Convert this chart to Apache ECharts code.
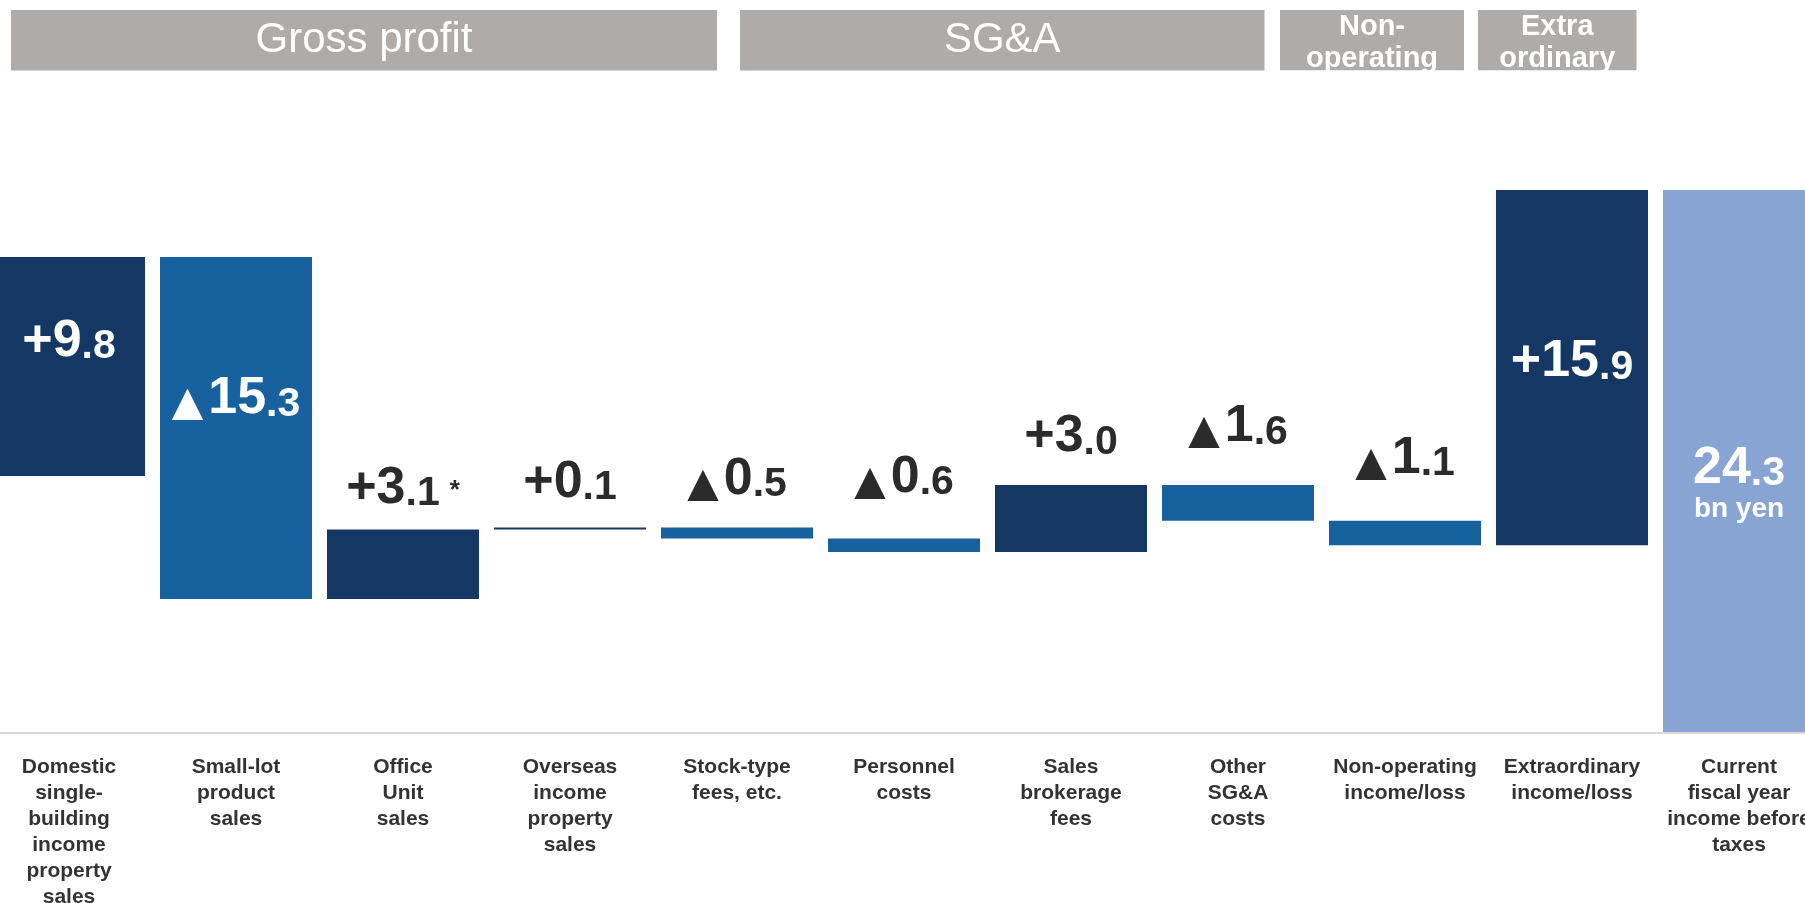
<!DOCTYPE html>
<html>
<head>
<meta charset="utf-8">
<script src="https://cdn.jsdelivr.net/npm/echarts@6/dist/echarts.min.js"></script>
<style>
  html, body { margin: 0; padding: 0; background: #ffffff; }
  #chart { width: 1805px; height: 903px; }
</style>
</head>
<body>
<div id="chart"></div>
<script>
// Bridge of income before taxes (bn yen): one change per driver, then the current-year total.
const categories = [
  'Domestic\nsingle-\nbuilding\nincome\nproperty\nsales',
  'Small-lot\nproduct\nsales',
  'Office\nUnit\nsales',
  'Overseas\nincome\nproperty\nsales',
  'Stock-type\nfees, etc.',
  'Personnel\ncosts',
  'Sales\nbrokerage\nfees',
  'Other\nSG&A\ncosts',
  'Non-operating\nincome/loss',
  'Extraordinary\nincome/loss',
  'Current\nfiscal year\nincome before\ntaxes'
];
const changes = [9.8, -15.3, 3.1, 0.1, -0.5, -0.6, 3.0, -1.6, -1.1, 15.9];
const currentTotal = 24.3;
const totalUnit = 'bn yen';
const footnotes = ['', '', '*', '', '', '', '', '', '', ''];
const groupHeaders = ['Gross profit', 'SG&A', 'Non-\noperating', 'Extra\nordinary'];

const FONT = '"Liberation Sans", Arial, Helvetica, sans-serif';
const TRI_FONT = '"DejaVu Sans", "Liberation Sans", sans-serif';
const DARK = '#153764';
const MID = '#17629e';
const LIGHT = '#88a4d2';
const HEADER = '#aeaba9';
const INK = '#2b2b2b';

// Opening level implied by the total and the listed changes
const opening = +(currentTotal - changes.reduce((a, b) => a + b, 0)).toFixed(1);

// Waterfall: invisible base + visible change
const baseData = [];
const stepData = [];
let level = opening;
changes.forEach(function (d) {
  const next = level + d;
  baseData.push(Math.min(level, next));
  stepData.push(Math.abs(d));
  level = next;
});
baseData.push(0);
stepData.push(currentTotal);

function valueText(v, note) {
  const parts = Math.abs(v).toFixed(1).split('.');
  const head = v < 0 ? '{t|▲}{b|' + parts[0] + '}' : '{b|+' + parts[0] + '}';
  return head + '{s|.' + parts[1] + '}' + (note ? '{n|' + note + '}' : '');
}

// label placement per bar
const gapAbove = { 2: 15, 3: 19, 4: 22, 5: 35, 6: 22, 7: 32, 8: 36 };
const insideShift = { 0: -17, 1: -21, 9: 2 };

const stepItems = stepData.map(function (v, i) {
  if (i === changes.length) {
    const parts = currentTotal.toFixed(1).split('.');
    return {
      value: v,
      itemStyle: { color: LIGHT },
      label: {
        show: true, position: 'inside', offset: [0, 29.5], color: '#ffffff',
        formatter: '{b|' + parts[0] + '}{s|.' + parts[1] + '}\n{u|' + totalUnit + '}'
      }
    };
  }
  const d = changes[i];
  const inside = Math.abs(d) >= 5;
  const label = inside
    ? { show: true, position: 'inside', offset: [0, insideShift[i]], color: '#ffffff' }
    : { show: true, position: 'top', distance: gapAbove[i], color: INK };
  label.formatter = valueText(d, footnotes[i]);
  return { value: v, itemStyle: { color: d >= 0 ? DARK : MID }, label: label };
});

const richStyles = {
  b: { fontFamily: FONT, fontWeight: 'bold', fontSize: 52, lineHeight: 36.4, verticalAlign: 'bottom' },
  s: { fontFamily: FONT, fontWeight: 'bold', fontSize: 41, lineHeight: 28.7, verticalAlign: 'bottom' },
  t: { fontFamily: TRI_FONT, fontWeight: 'bold', fontSize: 41, lineHeight: 28.7, verticalAlign: 'bottom', padding: [0, 5, 0, 0] },
  n: { fontFamily: FONT, fontWeight: 'bold', fontSize: 26, lineHeight: 18, verticalAlign: 'top', padding: [0, 0, 0, 10] },
  u: { fontFamily: FONT, fontWeight: 'bold', fontSize: 28, lineHeight: 29 }
};

// group header bands across the top
const headerBoxes = [
  { x0: 11, x1: 717, font: 'normal 42px ' + FONT, lh: 42, y: 40.5 },
  { x0: 740, x1: 1264.5, font: 'normal 42px ' + FONT, lh: 42, y: 40.5 },
  { x0: 1280, x1: 1464, font: 'bold 29px ' + FONT, lh: 32, y: 43 },
  { x0: 1478, x1: 1636.5, font: 'bold 29px ' + FONT, lh: 32, y: 43 }
];
const graphics = [];
headerBoxes.forEach(function (h, i) {
  graphics.push({
    type: 'rect', z: 10,
    shape: { x: h.x0, y: 10, width: h.x1 - h.x0, height: 60.5 },
    style: { fill: HEADER }
  });
  graphics.push({
    type: 'text', z: 20, x: (h.x0 + h.x1) / 2, y: h.y,
    style: {
      text: groupHeaders[i], fill: '#ffffff', font: h.font,
      lineHeight: h.lh, align: 'center', verticalAlign: 'middle'
    }
  });
});
// two-line headers are cut at the band's lower edge
graphics.push({
  type: 'rect', z: 30,
  shape: { x: 1272, y: 70.5, width: 372, height: 30 },
  style: { fill: '#ffffff' }
});

const chart = echarts.init(document.getElementById('chart'), null, { renderer: 'canvas' });
chart.setOption({
  animation: false,
  backgroundColor: '#ffffff',
  grid: { left: -14.5, right: -17.5, top: 62.5, bottom: 170, containLabel: false, outerBoundsMode: 'none' },
  xAxis: {
    type: 'category',
    data: categories,
    axisLine: { show: true, lineStyle: { color: '#d9d9d9', width: 2 } },
    axisTick: { show: false },
    axisLabel: {
      interval: 0, margin: 21, color: '#333333',
      fontFamily: FONT, fontWeight: 'bold', fontSize: 21, lineHeight: 26
    },
    z: 5
  },
  yAxis: { type: 'value', min: 0, max: 30, show: false, splitLine: { show: false } },
  series: [
    {
      type: 'bar', stack: 'bridge', data: baseData, barWidth: 152,
      itemStyle: { color: 'transparent' }, silent: true, emphasis: { disabled: true }
    },
    {
      type: 'bar', stack: 'bridge', data: stepItems, barWidth: 152,
      label: { fontFamily: FONT, fontWeight: 'bold', rich: richStyles },
      emphasis: { disabled: true }
    }
  ],
  graphic: { elements: graphics }
});
</script>
</body>
</html>
